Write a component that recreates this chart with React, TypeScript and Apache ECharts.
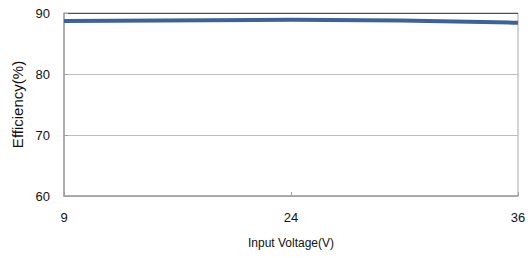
import React, { useEffect, useRef } from "react";
import * as echarts from "echarts";

const categories = ["9", "24", "36"];
const efficiency = [88.7, 88.9, 88.4];
const yTicks = [60, 70, 80, 90];

const FONT = "'Liberation Sans Narrow', 'Arial Narrow', 'Liberation Sans', Arial, sans-serif";

export default function App() {
  const ref = useRef<HTMLDivElement>(null);
  useEffect(() => {
    if (!ref.current) return;
    const chart = echarts.init(ref.current, undefined, { renderer: "svg" });
    chart.setOption({
      animation: false,
      backgroundColor: "#ffffff",
      grid: {
        left: 64,
        right: 14,
        top: 13,
        bottom: 62,
        show: true,
        borderColor: "#a8a8a8",
        borderWidth: 1,
      },
      xAxis: {
        type: "category",
        data: categories,
        boundaryGap: false,
        name: "Input Voltage(V)",
        nameLocation: "middle",
        nameGap: 41,
        nameTextStyle: { fontFamily: FONT, fontSize: 12, color: "#111" },
        axisLine: { lineStyle: { color: "#a0a0a0", width: 1.5 } },
        axisTick: { show: true, inside: true, length: 4, lineStyle: { color: "#a0a0a0" } },
        axisLabel: { fontFamily: FONT, fontSize: 13, color: "#111", margin: 15 },
        splitLine: { show: false },
      },
      yAxis: {
        type: "value",
        min: yTicks[0],
        max: yTicks[yTicks.length - 1],
        interval: 10,
        name: "Efficiency(%)",
        nameLocation: "middle",
        nameGap: 35,
        nameTextStyle: { fontFamily: "'Liberation Sans', Arial, sans-serif", fontSize: 15, color: "#111" },
        axisLine: { show: true, lineStyle: { color: "#a0a0a0", width: 1.5 } },
        axisTick: { show: true, inside: true, length: 4, lineStyle: { color: "#a0a0a0" } },
        axisLabel: { fontFamily: FONT, fontSize: 13, color: "#111", margin: 14 },
        splitLine: {
          show: true,
          lineStyle: { color: ["#bdbdbd", "#bdbdbd", "#bdbdbd", "#505050"], width: 1.2 },
        },
      },
      series: [
        {
          type: "line",
          data: efficiency,
          symbol: "none",
          smooth: true,
          lineStyle: { color: "#3a639b", width: 4 },
        },
      ],
    });
    return () => chart.dispose();
  }, []);
  return (
    <div
      ref={ref}
      style={{ position: "fixed", left: 0, top: 0, width: 532, height: 258 }}
    />
  );
}
